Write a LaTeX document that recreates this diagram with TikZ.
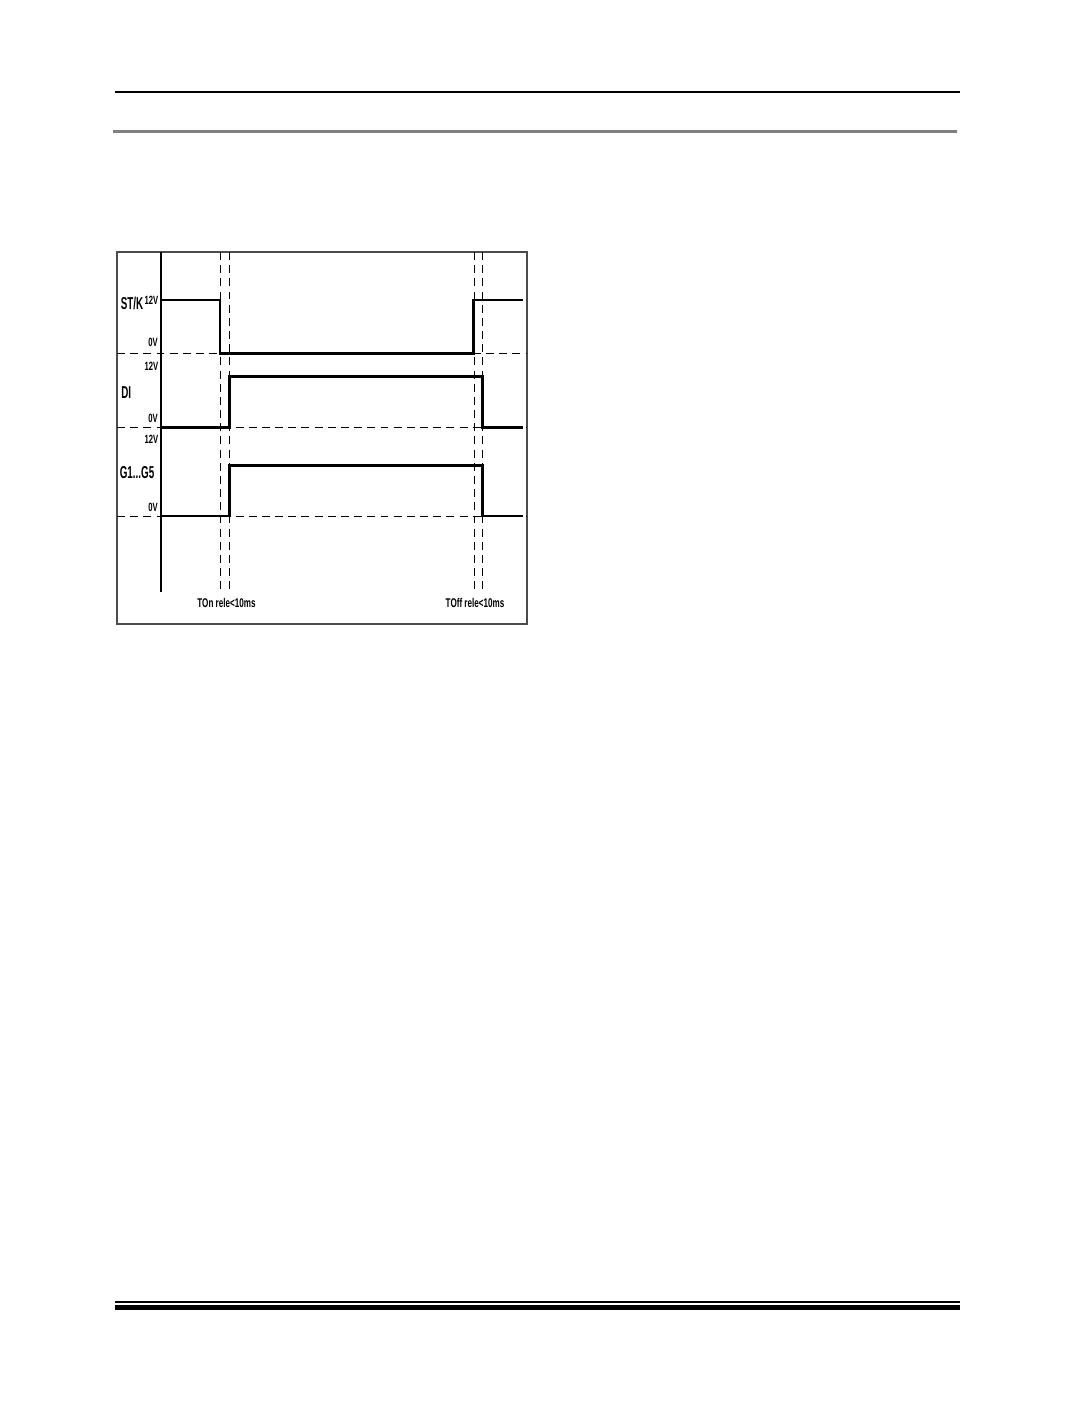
\documentclass[tikz,border=0pt]{standalone}
\usepackage{fontspec}
\newfontfamily\narrowsf[FakeStretch=0.64]{Liberation Sans}
\newfontfamily\narrowersf[FakeStretch=0.57]{Liberation Sans}
\usetikzlibrary{calc}

\tikzset{
  sig/.style={line width=1.4pt},
  guide/.style={dash pattern=on 4.5pt off 3pt,line width=0.55pt},
  lbl/.style={inner sep=0pt,font=\narrowersf\bfseries\fontsize{9.8}{10}\selectfont},
  volt/.style={inner sep=0pt,font=\narrowsf\bfseries\fontsize{6.8}{7}\selectfont},
  tlbl/.style={inner sep=0pt,font=\narrowsf\bfseries\fontsize{7.2}{8}\selectfont}
}

\begin{document}
\begin{tikzpicture}[x=0.02cm,y=-0.02cm]
\useasboundingbox (0,0) rectangle (1075,1422);

% page rules
\draw[line width=0.9pt] (115,92) -- (960,92);
\draw[line width=1.2pt,black!50] (113,131.5) -- (957,131.5);
\draw[line width=0.6pt] (115,1302) -- (960,1302);
\draw[line width=2.8pt] (115,1307.5) -- (960,1307.5);

% frame and time axis
\draw[line width=0.6pt,black!70] (117,252) rectangle (527,624);
\coordinate (ax0) at (160.7,252);
\coordinate (ax1) at (160.7,592);
\draw[line width=1.1pt] (ax0) -- (ax1);

% guide lines
\foreach \x in {220,229.3,474,482.3}{\draw[guide] (\x,252) -- (\x,593);}
\foreach \y in {353.3,427.7,516}{\draw[guide] (117,\y) -- (527,\y);}

% signals
\draw[sig] (160.7,300) -- (220,300) -- (220,353.3) -- (473.5,353.3)
   -- (473.5,300) -- (522.7,300);
\draw[sig] (160.7,427.7) -- (229.3,427.7) -- (229.3,376.7) -- (482.3,376.7)
   -- (482.3,427.7) -- (522.7,427.7);
\draw[sig,line width=1.6pt] (160.7,516) -- (229.3,516) -- (229.3,465.7) -- (482.3,465.7)
   -- (482.3,516) -- (522.7,516);

% labels
\node[lbl,anchor=east]  (stk)  at (143.5,303) {ST/K};
\node[volt,anchor=east] (stkh) at (158.5,300) {12V};
\node[volt,anchor=east] (stkl) at (158,342) {0V};
\node[volt,anchor=east] (dih)  at (158.5,366) {12V};
\node[lbl,anchor=west]  (di)   at (121,393) {DI};
\node[volt,anchor=east] (dil)  at (158,418) {0V};
\node[volt,anchor=east] (gh)   at (158.5,439) {12V};
\node[lbl,anchor=west]  (g)    at (119.5,473) {G1...G5};
\node[volt,anchor=east] (gl)   at (158,507) {0V};
\node[tlbl] (ton)  at (226.5,603) {TOn rele<10ms};
\node[tlbl] (toff) at (475,603) {TOff rele<10ms};

\end{tikzpicture}
\end{document}
